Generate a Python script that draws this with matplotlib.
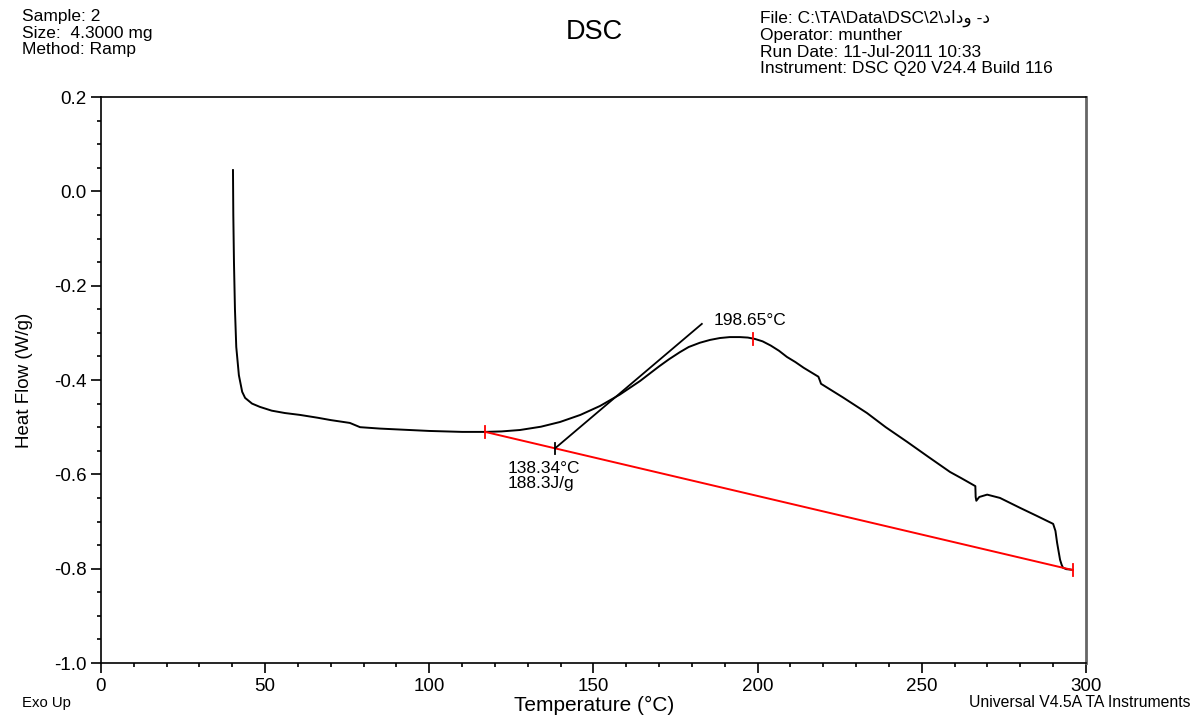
import numpy as np
import matplotlib.pyplot as plt
from matplotlib.ticker import MultipleLocator

plt.rcParams['font.family'] = ['Liberation Sans', 'DejaVu Sans']

# heat flow curve
temp = [40.2, 40.3, 40.5, 40.8, 41.2, 42.0, 43.0, 43.9, 46.0, 48.4, 52.0, 56.0, 60.6,
        66.0, 70.0, 75.8, 78.9, 85.0, 91.0, 100.0, 110.0, 117.0, 122.0, 127.6,
        134.0, 139.8, 146.0, 152.0, 158.0, 164.2, 167.0, 170.0, 173.0, 176.3,
        179.0, 182.4, 185.5, 188.5, 191.5, 194.6, 197.0, 199.2, 201.5, 204.0,
        206.5, 208.9, 211.5, 214.0, 218.5, 219.0, 219.3, 226.0, 233.3,
        239.0, 245.5, 252.0, 258.6, 262.0, 266.3, 266.4, 266.6, 267.5, 269.9,
        273.8, 279.9, 285.0, 290.0, 290.7, 291.2, 291.7, 292.1, 292.6, 293.0,
        294.0, 295.4]
heat = [0.045, -0.05, -0.15, -0.25, -0.33, -0.39, -0.425, -0.438, -0.450, -0.457,
        -0.465, -0.470, -0.474, -0.480, -0.485, -0.491, -0.500, -0.503, -0.505,
        -0.508, -0.510, -0.510, -0.509, -0.506, -0.499, -0.489, -0.474, -0.455,
        -0.431, -0.402, -0.387, -0.371, -0.356, -0.341, -0.330, -0.321, -0.315,
        -0.311, -0.309, -0.309, -0.310, -0.313, -0.318, -0.327, -0.338, -0.351,
        -0.362, -0.374, -0.393, -0.402, -0.408, -0.437, -0.470, -0.500, -0.531,
        -0.563, -0.595, -0.608, -0.625, -0.648, -0.656, -0.648, -0.643, -0.650,
        -0.671, -0.688, -0.705, -0.720, -0.745, -0.765, -0.781, -0.792, -0.798,
        -0.801, -0.802]

base_x = [117.0, 296.0]
base_y = [-0.510, -0.803]
onset_x, onset_y = 138.34, -0.5446
tang_x = [138.34, 183.0]
tang_y = [-0.5446, -0.281]
peak_x, peak_y = 198.65, -0.313

fig = plt.figure(figsize=(11.98, 7.17), dpi=100)
ax = fig.add_axes([0.0843, 0.0753, 0.8222, 0.7894])

ax.plot(temp, heat, color='black', lw=1.4)
ax.plot(base_x, base_y, color='red', lw=1.4)
ax.plot(tang_x, tang_y, color='black', lw=1.3)

# small vertical markers
h = 0.012
for xx, yy in zip(base_x, base_y):
    ax.plot([xx, xx], [yy - h, yy + h], color='red', lw=1.3)
ax.plot([peak_x, peak_x], [peak_y - h, peak_y + h], color='red', lw=1.3)
ax.plot([onset_x, onset_x], [onset_y - h, onset_y + h], color='black', lw=1.3)

ax.text(onset_x - 14.5, -0.572, '138.34°C\n188.3J/g', fontsize=12.5, va='top',
        ha='left', linespacing=1.0)
ax.text(peak_x - 12, -0.29, '198.65°C', fontsize=12.5, va='bottom', ha='left')

ax.set_xlim(0, 300)
ax.set_ylim(-1.0, 0.2)
ax.xaxis.set_major_locator(MultipleLocator(50))
ax.xaxis.set_minor_locator(MultipleLocator(10))
ax.yaxis.set_major_locator(MultipleLocator(0.2))
ax.yaxis.set_minor_locator(MultipleLocator(0.05))
ax.yaxis.set_major_formatter(plt.FuncFormatter(lambda v, p: '%.1f' % v))
ax.tick_params(which='major', direction='out', length=7, width=1.2, labelsize=13.5)
ax.tick_params(which='minor', direction='out', length=3, width=1.2)
ax.spines['right'].set_color('#666666')
ax.spines['right'].set_linewidth(2)
for s in ['left', 'bottom', 'top']:
    ax.spines[s].set_linewidth(1.2)

ax.set_ylabel('Heat Flow (W/g)', fontsize=13.5, labelpad=15)
fig.text(0.496, 0.016, 'Temperature (°C)', fontsize=15, ha='center', va='center')

fig.text(0.018, 0.987, 'Sample: 2\nSize:  4.3000 mg\nMethod: Ramp', fontsize=12.5,
         va='top', ha='left', linespacing=1.12)
fig.text(0.634, 0.987, 'File: C:\\TA\\Data\\DSC\\2\\\u062f\u0627\u062f\u0648 -\u062f\n'
         'Operator: munther\nRun Date: 11-Jul-2011 10:33\n'
         'Instrument: DSC Q20 V24.4 Build 116', fontsize=12.5, va='top', ha='left',
         linespacing=1.12)
fig.text(0.496, 0.955, 'DSC', fontsize=19.5, ha='center', va='center')
fig.text(0.018, 0.02, 'Exo Up', fontsize=10.7, ha='left', va='center')
fig.text(0.994, 0.02, 'Universal V4.5A TA Instruments', fontsize=11.3, ha='right',
         va='center')

fig.savefig('out.png', dpi=100)
